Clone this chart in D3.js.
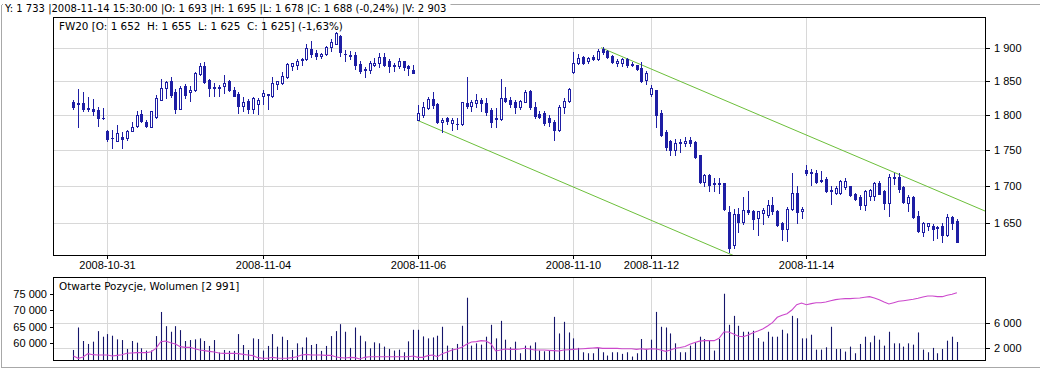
<!DOCTYPE html>
<html lang="pl">
<head>
<meta charset="UTF-8">
<script src="https://d3js.org/d3.v7.min.js"></script>
<style>
  body { margin: 0; background: #ffffff; }
  svg { display: block; font-family: "DejaVu Sans", Verdana, sans-serif; }
  .grid line { stroke: #d8d8d8; shape-rendering: crispEdges; }
  .axis text { font-size: 11px; fill: #000; }
  .axis line { stroke: #000; shape-rendering: crispEdges; }
  .axis path { display: none; }
  .frame { fill: none; stroke: #000; shape-rendering: crispEdges; }
  .label { font-size: 10.4px; fill: #000; white-space: pre; }
</style>
</head>
<body>
<script>
    const width = 1040;
    const height = 372;

    // 30-minute bars, FW20, 2008-10-30 .. 2008-11-17
    const open = [
        1818,1817,1817,1810,1809,1807,1796,1776,1767,1763, 1768,1767,1777,1784,1801,1790,1783,1797,1822,1839,
        1849,1833,1809,1842,1833,1836,1860,1872,1851,1840, 1840,1842,1850,1837,1831,1813,1820,1809,1815,1828,
        1830,1827,1845,1846,1856,1872,1874,1881,1882,1898, 1892,1888,1890,1901,1906,1918,1891,1889,1889,1875,
        1867,1866,1874,1876,1886,1879,1873,1872,1879,1872, 1866,1792,1800,1810,1823,1815,1790,1795,1788,1787,
        1787,1817,1813,1817,1821,1817,1807,1795,1794,1824, 1822,1818,1811,1819,1835,1812,1801,1802,1796,1790,
        1778,1811,1820,1863,1877,1886,1879,1886,1882,1898, 1895,1887,1876,1876,1882,1875,1873,1869,1851,1830,
        1836,1803,1775,1763,1750,1760,1759,1764,1761,1742, 1705,1715,1703,1703,1703,1664,1620,1662,1651,1667,
        1666,1656,1663,1660,1673,1666,1650,1642,1668,1690, 1665,1722,1719,1717,1708,1709,1694,1690,1690,1698,
        1699,1688,1684,1673,1686,1686,1703,1692,1676,1712, 1712,1698,1677,1685,1659,1638,1645,1646,1644,1645,
        1634,1657,1652
    ];
    const high = [
        1822,1838,1833,1826,1823,1811,1810,1778,1778,1785, 1775,1778,1790,1805,1807,1792,1806,1829,1853,1850,
        1856,1838,1842,1845,1842,1863,1876,1878,1852,1846, 1843,1858,1851,1840,1834,1826,1823,1826,1824,1836,
        1831,1855,1850,1863,1877,1877,1883,1885,1906,1910, 1897,1892,1902,1913,1924,1919,1897,1895,1893,1879,
        1870,1879,1884,1892,1892,1882,1876,1884,1880,1874, 1874,1814,1818,1826,1833,1817,1795,1797,1795,1795,
        1819,1856,1822,1831,1825,1825,1810,1810,1853,1840, 1826,1821,1822,1836,1836,1819,1806,1806,1799,1792,
        1814,1825,1839,1893,1891,1888,1886,1889,1898,1901, 1896,1889,1883,1884,1885,1878,1874,1878,1864,1844,
        1837,1807,1778,1764,1765,1765,1768,1768,1762,1743, 1716,1716,1710,1710,1704,1672,1668,1670,1684,1693,
        1667,1666,1669,1680,1684,1667,1651,1671,1717,1700, 1671,1729,1723,1721,1720,1712,1699,1699,1708,1711,
        1700,1690,1687,1694,1695,1705,1707,1694,1716,1717, 1717,1699,1687,1686,1666,1651,1650,1648,1645,1650,
        1662,1659,1655
    ];
    const low = [
        1808,1783,1806,1805,1800,1784,1794,1762,1752,1762, 1752,1764,1776,1783,1789,1783,1782,1796,1821,1824,
        1826,1803,1808,1825,1820,1835,1858,1847,1828,1828, 1828,1832,1835,1827,1802,1806,1802,1803,1801,1815,
        1808,1826,1838,1845,1854,1866,1868,1874,1881,1886, 1883,1885,1889,1895,1905,1887,1880,1882,1867,1861,
        1855,1862,1872,1871,1872,1863,1865,1869,1866,1858, 1861,1792,1797,1808,1810,1788,1775,1787,1778,1780,
        1785,1810,1806,1812,1806,1800,1782,1782,1793,1819, 1811,1802,1809,1818,1809,1795,1795,1785,1784,1764,
        1776,1803,1818,1861,1875,1875,1877,1881,1881,1890, 1884,1876,1872,1872,1871,1872,1866,1848,1845,1828,
        1782,1769,1749,1742,1742,1747,1755,1755,1739,1704, 1700,1692,1693,1690,1667,1612,1617,1637,1648,1661,
        1641,1634,1648,1657,1662,1645,1627,1626,1667,1650, 1656,1714,1701,1704,1705,1691,1675,1688,1689,1695,
        1686,1680,1668,1667,1680,1680,1688,1668,1659,1702, 1691,1677,1665,1656,1637,1633,1640,1627,1630,1625,
        1632,1642,1625
    ];
    const close = [
        1812,1816,1808,1809,1806,1795,1795,1765,1766,1773, 1765,1776,1783,1800,1791,1784,1805,1824,1839,1848,
        1829,1808,1839,1829,1837,1861,1872,1848,1839,1839, 1841,1846,1837,1828,1813,1819,1808,1824,1822,1832,
        1829,1847,1849,1857,1875,1876,1880,1882,1900,1890, 1887,1891,1901,1908,1922,1894,1890,1888,1874,1864,
        1866,1876,1877,1886,1874,1872,1872,1879,1871,1869, 1861,1803,1811,1823,1814,1789,1793,1791,1793,1786,
        1818,1813,1818,1821,1817,1804,1790,1794,1824,1820, 1816,1811,1820,1833,1811,1798,1797,1788,1789,1778,
        1811,1820,1838,1877,1884,1877,1884,1883,1895,1893, 1886,1878,1880,1882,1874,1874,1868,1850,1862,1839,
        1800,1771,1754,1750,1760,1761,1763,1759,1740,1705, 1715,1701,1702,1702,1668,1617,1662,1651,1667,1664,
        1655,1665,1667,1673,1665,1647,1642,1668,1690,1664, 1668,1718,1718,1705,1707,1692,1693,1697,1707,1707,
        1687,1682,1673,1692,1694,1704,1689,1676,1712,1711, 1696,1678,1684,1657,1639,1650,1649,1642,1643,1634,
        1657,1650,1625
    ];
    const volume = [
        1700,5330,3150,2670,3040,4740,3840,4260,4000,3410, 3300,1870,3150,2880,1970,1600,1600,3940,7830,5540,
        4640,5540,4900,3150,3300,3410,3570,3150,2350,3300, 1280,1700,1550,1550,4260,2500,1700,3570,3460,1600,
        2350,4260,2240,3840,3300,1700,2770,2130,3730,2500, 2670,1550,2350,3940,4740,5860,4640,2030,5330,4000,
        3090,1970,2930,2770,2240,1870,1600,1760,1330,3090, 4960,4960,3890,3570,3730,4000,5440,2400,1970,2670,
        5600,10130,2400,2770,2560,3840,5760,3570,6400,3360, 2130,3040,1170,2400,2400,2930,1600,1490,1600,7040,
        4370,6240,4530,3570,2030,1330,1170,1170,2030,1330, 800,1330,1330,1070,1330,640,1170,3470,1870,3360,
        7840,5440,5330,4370,2770,1330,1330,2400,2930,3840, 3470,3200,1600,3470,10770,5760,7200,5600,4640,4640,
        4800,3620,3040,4640,3840,3840,4960,4370,7200,6820, 3570,3570,4160,1760,1760,2130,5440,1870,1870,1440,
        2240,1170,2670,3840,2930,4000,3360,2400,4640,2770, 2770,2240,2770,2560,4530,1760,1330,2030,1170,1870,
        3200,3840,2991
    ];
    const openInterest = [
        56140,55430,55830,56850,56540,56440,56440,56440,56140,56340, 56540,56950,57050,57150,57150,57150,57450,58470,60500,60700,
        60190,59790,58980,58770,58770,58360,57960,57760,57550,57350, 57050,56950,56950,56950,56850,56640,56440,56240,55630,55430,
        55430,55730,55530,55430,55430,55630,55930,56440,56640,56440, 56440,56440,56340,56340,55930,55630,55530,55730,55650,55220,
        55730,55930,55930,55930,55930,55930,55930,55930,55930,55930, 56140,55730,55730,56240,56440,55930,56850,57350,57960,58260,
        58770,59680,60400,60500,60800,60700,59890,57660,57960,58260, 58160,58160,58260,58470,58260,57960,57960,57960,57860,57760,
        57660,57960,58060,58160,58260,58360,58470,58570,58670,58470, 58470,58470,58470,58360,58360,58360,58160,58360,58160,58360,
        58260,57960,57550,57960,58470,58720,59030,59680,60240,60650, 60800,60800,60800,61510,63440,63440,62830,62120,62020,62520,
        63240,63740,64350,65260,66280,67900,68510,69020,70130,71750, 72260,71750,72060,72360,72360,72570,72970,73280,73480,73580,
        73580,73690,73790,73990,74190,73790,73280,72570,71960,72360, 72770,72970,73180,73380,73690,74090,74390,74390,74190,74190,
        74600,74900,75410
    ];

    const dayStart = [7, 39, 71, 103, 119, 151];
    const dayLabels = ['2008-10-31', '2008-11-04', '2008-11-06', '2008-11-10', '2008-11-12', '2008-11-14'];
    const priceTicks = [1650, 1700, 1750, 1800, 1850, 1900];
    const oiTicks = [60000, 65000, 70000, 75000];
    const volTicks = [2000, 6000];
    // trend channel: [bar index, price]
    const trendLower = [[70.85, 1792], [136.3, 1606]];
    const trendUpper = [[108.7, 1900], [188, 1665]];

    const statusText = 'Y: 1 733 |2008-11-14 15:30:00 |O: 1 693 |H: 1 695 |L: 1 678 |C: 1 688 (-0,24%) |V: 2 903';

    const candleColor = '#1e1ea4';
    const volColor = '#15156a';
    const oiColor = '#cc48cc';
    const trendColor = '#6cbf3a';

    const fmt = d3.formatLocale({decimal: ',', thousands: '\u00a0', grouping: [3], currency: ['', '']}).format(',d');

    const x = d3.scaleLinear().domain([-4, 188]).range([54, 986]);
    const y = d3.scaleLog().domain([1606.9, 1946.8]).range([255.5, 17.5]);
    const yVol = d3.scaleLinear().domain([0, 13390]).range([360.5, 277.5]);
    const yOI = d3.scaleLinear().domain([54767, 80020]).range([360.5, 277.5]);

    const svg = d3.select('body').append('svg')
        .attr('width', width)
        .attr('height', height);

    // outer grey frame
    svg.append('path')
        .attr('d', 'M1.5,4.5 H1040 M1.5,4.5 V367.5 H1040')
        .attr('fill', 'none')
        .attr('stroke', '#a8a8a8')
        .attr('shape-rendering', 'crispEdges');

    const status = svg.append('text')
        .attr('class', 'label')
        .attr('x', 5).attr('y', 12)
        .style('font-size', '10px')
        .text(statusText);
    const sb = status.node().getBBox();
    svg.insert('rect', 'text')
        .attr('x', 3).attr('y', 0)
        .attr('width', sb.width + 5).attr('height', 16)
        .attr('fill', '#fff');

    const bars = d3.range(open.length);

    // ---------- price panel ----------
    const priceGrid = svg.append('g').attr('class', 'grid');
    priceGrid.selectAll('.h').data(priceTicks).enter().append('line')
        .attr('x1', 54).attr('x2', 986)
        .attr('y1', d => Math.round(y(d)) + 0.5).attr('y2', d => Math.round(y(d)) + 0.5);
    priceGrid.selectAll('.v').data(dayStart).enter().append('line')
        .attr('x1', d => Math.round(x(d)) + 0.5).attr('x2', d => Math.round(x(d)) + 0.5)
        .attr('y1', 17.5).attr('y2', 255.5);

    svg.append('clipPath').attr('id', 'clipMain')
        .append('rect').attr('x', 54).attr('y', 18).attr('width', 932).attr('height', 238);

    const trendLine = d3.line().x(d => x(d[0])).y(d => y(d[1]));
    svg.append('g').attr('clip-path', 'url(#clipMain)')
        .selectAll('path').data([trendLower, trendUpper]).enter().append('path')
        .attr('d', trendLine)
        .attr('fill', 'none')
        .attr('stroke', trendColor)
        .attr('stroke-width', 1);

    const candles = svg.append('g');
    candles.selectAll('.wick').data(bars).enter().append('line')
        .attr('x1', i => Math.round(x(i)) + 0.5).attr('x2', i => Math.round(x(i)) + 0.5)
        .attr('y1', i => Math.round(y(high[i]))).attr('y2', i => Math.round(y(low[i])) + 1)
        .attr('stroke', candleColor);

    candles.selectAll('.body').data(bars).enter().append('rect')
        .each(function (i) {
            const up = close[i] > open[i];
            const top = Math.round(y(Math.max(open[i], close[i])));
            const bot = Math.round(y(Math.min(open[i], close[i])));
            const cx = Math.round(x(i));
            const r = d3.select(this);
            if (up) {
                r.attr('x', cx - 0.5).attr('y', top + 0.5)
                    .attr('width', 2).attr('height', Math.max(1, bot - top))
                    .attr('fill', '#fff').attr('stroke', candleColor);
            } else {
                r.attr('x', cx - 1).attr('y', top)
                    .attr('width', 3).attr('height', Math.max(1, bot - top + 1))
                    .attr('fill', candleColor);
            }
        });

    svg.append('rect').attr('class', 'frame')
        .attr('x', 53.5).attr('y', 17.5).attr('width', 932).attr('height', 238);

    svg.append('g').attr('class', 'axis')
        .attr('transform', 'translate(986,0)')
        .call(d3.axisRight(y).tickValues(priceTicks).tickFormat(fmt).tickSize(4).tickPadding(4))
        .selectAll('.tick').attr('transform', d => `translate(0,${Math.round(y(d)) + 0.5})`);

    svg.append('g').attr('class', 'axis')
        .attr('transform', 'translate(0,256)')
        .call(d3.axisBottom(x).tickValues(dayStart).tickFormat((d, k) => dayLabels[k]).tickSize(3).tickPadding(2))
        .selectAll('.tick').attr('transform', d => `translate(${Math.round(x(d)) + 0.5},0)`);

    const o = open[open.length - 1], c = close[close.length - 1];
    const pct = ((c - o) / o * 100).toFixed(2).replace('.', ',');
    svg.append('text').attr('class', 'label')
        .attr('x', 59).attr('y', 30)
        .text(`FW20 [O: ${fmt(o)}  H: ${fmt(high[high.length - 1])}  L: ${fmt(low[low.length - 1])}  C: ${fmt(c)}] (${pct}%)`);

    // ---------- open interest / volume panel ----------
    const subGrid = svg.append('g').attr('class', 'grid');
    subGrid.selectAll('.h').data(volTicks).enter().append('line')
        .attr('x1', 54).attr('x2', 986)
        .attr('y1', d => Math.round(yVol(d)) + 0.5).attr('y2', d => Math.round(yVol(d)) + 0.5);
    subGrid.selectAll('.v').data(dayStart).enter().append('line')
        .attr('x1', d => Math.round(x(d)) + 0.5).attr('x2', d => Math.round(x(d)) + 0.5)
        .attr('y1', 277.5).attr('y2', 360.5);

    svg.append('g').selectAll('line').data(bars).enter().append('line')
        .attr('x1', i => Math.round(x(i)) + 0.5).attr('x2', i => Math.round(x(i)) + 0.5)
        .attr('y1', yVol(0)).attr('y2', i => yVol(volume[i]))
        .attr('stroke', volColor)
        .attr('stroke-width', 1.1);

    svg.append('path')
        .datum(bars)
        .attr('d', d3.line().x(i => x(i)).y(i => yOI(openInterest[i])))
        .attr('fill', 'none')
        .attr('stroke', oiColor)
        .attr('stroke-width', 1.1);

    svg.append('rect').attr('class', 'frame')
        .attr('x', 53.5).attr('y', 277.5).attr('width', 932).attr('height', 83);

    svg.append('g').attr('class', 'axis')
        .attr('transform', 'translate(54,0)')
        .call(d3.axisLeft(yOI).tickValues(oiTicks).tickFormat(fmt).tickSize(4).tickPadding(3));

    svg.append('g').attr('class', 'axis')
        .attr('transform', 'translate(986,0)')
        .call(d3.axisRight(yVol).tickValues(volTicks).tickFormat(fmt).tickSize(4).tickPadding(4));

    svg.append('text').attr('class', 'label')
        .attr('x', 59).attr('y', 290)
        .text(`Otwarte Pozycje, Wolumen [${fmt(volume[volume.length - 1])}]`);
</script>
</body>
</html>
